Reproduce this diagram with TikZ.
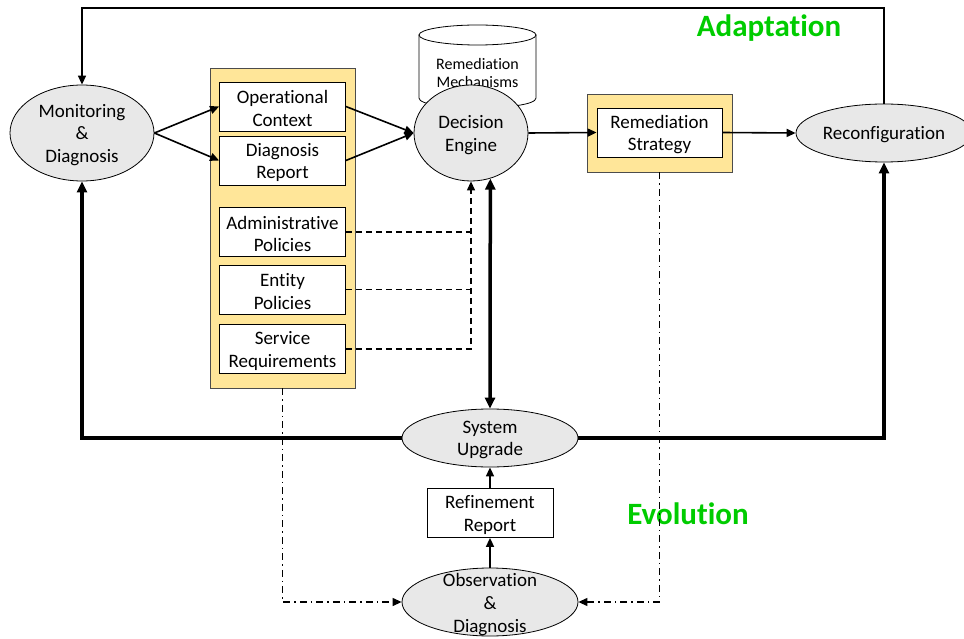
\documentclass[tikz,border=0pt]{standalone}
\usepackage{fontspec}
\setmainfont{Carlito}[Ligatures=NoCommon]
\usetikzlibrary{shapes.geometric,arrows.meta}
\definecolor{ellfill}{RGB}{232,232,232}
\definecolor{yfill}{RGB}{255,230,153}
\definecolor{grn}{RGB}{0,204,0}
\begin{document}
\begin{tikzpicture}[x=1pt,y=-1pt,
 every node/.style={font=\fontsize{19}{22.5}\selectfont, align=center, inner sep=0pt},
 txt/.style={yshift=-2pt},
 ell/.style={ellipse, draw, fill=ellfill, line width=0.8pt},
 wbox/.style={rectangle, draw, fill=white, line width=0.8pt, minimum width=126pt, minimum height=49pt},
 yframe/.style={rectangle, draw=black!70, fill=yfill, line width=0.8pt},
 tip/.style={-{Triangle[length=9pt,width=8pt]}},
 conn/.style={line width=1.6pt, tip},
 thk/.style={line width=3.5pt},
 thktip/.style={-{Triangle[length=11pt,width=10pt]}},
 dsh/.style={line width=1.2pt, dash pattern=on 6pt off 4pt},
 dshdot/.style={line width=1.2pt, dash pattern=on 7pt off 4pt on 1.5pt off 4pt},
 lbl/.style={font=\fontsize{31}{36}\bfseries\selectfont, text=grn}
]
\useasboundingbox (0,0) rectangle (964,639);

% cylinder (Remediation Mechanisms)
\path[draw, fill=white, line width=0.8pt] (419,35) -- (419,98) .. controls (419,111.3) and (536,111.3) .. (536,98) -- (536,35) -- cycle;
\draw[fill=white, line width=0.8pt] (477.5,35) ellipse[x radius=58.5, y radius=10];
\node[font=\fontsize{16}{18}\selectfont, txt] (rm) at (477.5,71) {Remediation\\Mechanisms};

% nodes
\node[ell, minimum width=144pt, minimum height=96pt] (md) at (82,133) {};
\node[txt] (mdt) at (md.center) {Monitoring\\\&\\Diagnosis};

\node[yframe, minimum width=145pt, minimum height=320pt] (ylw) at (282.5,228) {};
\node[wbox] (oc) at (282.5,106.5) {};
\node[txt] (oct) at (oc.center) {Operational\\Context};
\node[wbox] (dr) at (282.5,160.5) {};
\node[txt] (drt) at (dr.center) {Diagnosis\\Report};
\node[wbox] (ap) at (282.5,232) {};
\node[txt] (apt) at (ap.center) {Administrative\\Policies};
\node[wbox] (ep) at (282.5,289.5) {};
\node[txt] (ept) at (ep.center) {Entity\\Policies};
\node[wbox] (sr) at (282.5,349) {};
\node[txt] (srt) at (sr.center) {Service\\Requirements};

\node[ell, minimum width=114pt, minimum height=96pt] (de) at (471,133) {};
\node[txt] (det) at (de.center) {Decision\\Engine};

\node[yframe, minimum width=145pt, minimum height=78pt] (rf) at (659.5,133) {};
\node[wbox, minimum width=125pt] (rs) at (659.5,132.5) {};
\node[txt] (rst) at (rs.center) {Remediation\\Strategy};

\node[ell, minimum width=176pt, minimum height=58pt] (rc) at (884,133) {};
\node[txt] (rct) at (rc.center) {Reconfiguration};

\node[ell, minimum width=176pt, minimum height=58pt] (su) at (490,438) {};
\node[txt] (sut) at (su.center) {System\\Upgrade};

\node[wbox] (rr) at (490,513) {};
\node[txt] (rrt) at (rr.center) {Refinement\\Report};

\node[ell, minimum width=176pt, minimum height=68pt] (od) at (490,602) {};
\node[font=\fontsize{19}{23}\selectfont, yshift=-3pt] (odt) at (od.center) {Observation\\\&\\Diagnosis};

\node[lbl] (ad) at (769,28) {Adaptation};
\node[lbl] (ev) at (688,514) {Evolution};

% connectors
\coordinate (top) at (0,8);
\draw[conn] (md.east) -- (oc.west);
\draw[conn] (md.east) -- (dr.west);
\draw[conn] (oc.east) -- (de.west);
\draw[conn] (dr.east) -- (de.west);
\draw[conn] (de.east) -- (rs.west);
\draw[conn] (rs.east) -- (rc.west);
\draw[conn] (rc.north) -- (rc.north |- top) -| (md.north);

\draw[thk, thktip] (su.west) -| (md.south);
\draw[thk, thktip] (su.east) -| (rc.south);
\draw[thk, {Triangle[length=11pt,width=10pt]}-{Triangle[length=11pt,width=10pt]}] (de.-67.2) -- (su.north);

\draw[dsh] (ap.east) -- (ap.east -| de.south);
\draw[dsh] (ep.east) -- (ep.east -| de.south);
\draw[dsh, tip] (sr.east) -| (de.south);

\draw[dshdot, tip] (ylw.south) |- (od.west);
\draw[dshdot, tip] (rf.south) |- (od.east);

\draw[conn] (rr.north) -- (su.south);
\draw[conn] (od.north) -- (rr.south);
\end{tikzpicture}
\end{document}
